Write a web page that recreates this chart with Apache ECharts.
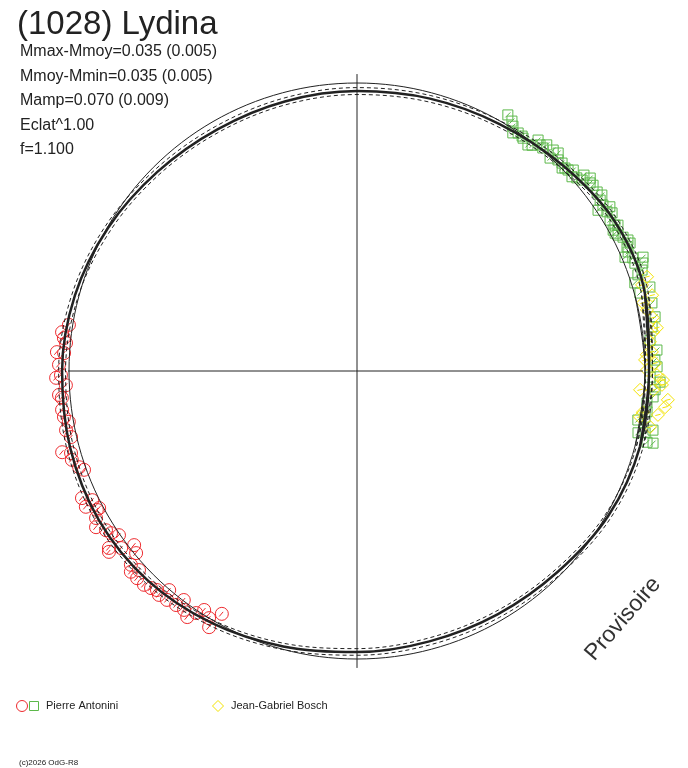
<!DOCTYPE html>
<html>
<head>
<meta charset="utf-8">
<title>(1028) Lydina</title>
<script src="https://cdn.jsdelivr.net/npm/echarts@6/dist/echarts.min.js"></script>
<style>
html, body { margin: 0; padding: 0; background: #fff; }
#main { width: 688px; height: 768px; }
</style>
</head>
<body>
<div id="main"></div>
<script>
// polar lightcurve: angle = rotation phase (deg), radius = relative brightness (1 = mean circle)
var title = '(1028) Lydina';
var statLines = ['Mmax-Mmoy=0.035 (0.005)', 'Mmoy-Mmin=0.035 (0.005)', 'Mamp=0.070 (0.009)', 'Eclat^1.00', 'f=1.100'];

var curveAngles = [0, 15, 30, 45, 60, 75, 90, 105, 120, 135, 150, 165, 180, 195, 210, 225, 240, 255, 270, 285, 300, 315, 330, 345];
var meanR = [1, 1, 1, 1, 1, 1, 1, 1, 1, 1, 1, 1, 1, 1, 1, 1, 1, 1, 1, 1, 1, 1, 1, 1];
var fitR = [1.014, 1.035, 1.035, 1.010, 0.990, 0.979, 0.972, 0.969, 0.969, 0.979, 0.997, 1.014, 1.024, 1.031, 1.035, 1.028, 1.010, 0.990, 0.976, 0.972, 0.976, 0.986, 1.007, 1.017];
var fitUpR = [1.026, 1.047, 1.046, 1.021, 1.001, 0.990, 0.984, 0.981, 0.981, 0.990, 1.008, 1.025, 1.036, 1.043, 1.046, 1.039, 1.021, 1.001, 0.987, 0.984, 0.988, 0.998, 1.018, 1.028];
var fitLowR = [1.002, 1.023, 1.024, 0.999, 0.979, 0.967, 0.960, 0.957, 0.958, 0.968, 0.985, 1.002, 1.012, 1.019, 1.023, 1.017, 0.999, 0.979, 0.964, 0.960, 0.964, 0.975, 0.996, 1.005];

// axis cross: [radius, angle]
var hAxis = [[1.003, 180], [0.993, 0]];
var vAxis = [[1.031, 90], [1.031, 270]];

// Pierre Antonini, night 1 (red circles) [radius, phase]
var redPts = [
    [1.013, 170.9], [1.033, 172.5], [1.024, 173.6], [1.015, 174.5], [1.044, 176.4], [1.019, 176.5],
    [1.035, 178.8], [1.045, 181.3], [1.028, 180.8], [1.012, 182.8], [1.038, 184.6], [1.029, 185.2],
    [1.033, 187.5], [1.030, 188.9], [1.016, 190.0], [1.031, 191.5], [1.019, 193.0], [1.062, 195.4],
    [1.033, 196.0], [1.037, 197.3], [1.021, 199.1], [1.008, 199.9], [1.052, 204.8], [1.023, 206.0],
    [1.014, 208.0], [1.053, 206.6], [1.024, 208.1], [1.040, 209.4], [1.056, 210.9], [1.032, 212.4],
    [1.023, 213.4], [1.004, 214.6], [1.058, 215.5], [1.066, 216.1], [1.024, 216.9], [0.982, 218.0],
    [0.994, 219.5], [1.034, 220.6], [1.050, 221.6], [1.025, 222.4], [1.049, 223.3], [1.048, 225.1],
    [1.039, 226.5], [1.030, 227.6], [1.038, 228.5], [1.002, 229.4], [1.033, 230.3], [1.027, 232.3],
    [0.997, 232.9], [1.024, 234.1], [1.038, 235.4], [1.009, 236.4], [0.985, 237.4], [1.000, 239.1],
    [1.027, 240.0], [0.965, 240.9]
];

// Pierre Antonini, night 2 (green squares)
var greenPts = [
    [1.032, 59.5], [1.021, 58.2], [1.008, 57.5], [0.988, 56.8], [0.998, 55.9], [0.997, 54.9],
    [0.993, 54.5], [0.984, 52.9], [0.992, 52.2], [1.019, 51.9], [1.010, 51.0], [1.008, 50.2],
    [1.025, 50.0], [1.026, 48.4], [0.998, 47.8], [1.030, 47.3], [1.012, 46.4], [1.014, 45.4],
    [1.002, 44.7], [1.009, 44.3], [1.012, 43.6], [1.025, 42.9], [1.006, 42.1], [1.016, 41.3],
    [1.041, 40.8], [1.025, 40.3], [1.051, 39.6], [1.040, 38.9], [1.043, 38.2], [1.040, 36.7],
    [1.047, 35.7], [1.032, 35.1], [1.030, 34.0], [1.006, 33.7], [1.029, 32.5], [1.047, 33.0],
    [1.042, 31.8], [1.023, 30.8], [1.029, 29.5], [1.015, 28.8], [1.038, 29.2], [1.016, 28.1],
    [1.022, 27.5], [1.034, 26.7], [1.045, 25.8], [1.047, 25.1], [1.032, 24.7], [1.028, 23.7],
    [1.011, 23.0], [1.035, 22.3], [1.035, 21.2], [1.069, 21.7], [1.061, 20.7], [1.050, 19.5],
    [1.031, 18.9], [1.012, 17.6], [1.058, 16.0], [1.019, 15.4], [1.051, 13.0], [1.052, 10.3],
    [1.036, 8.5], [1.023, 6.0], [1.044, 4.0], [1.035, 2.1], [1.042, 0.8], [1.018, 358.8],
    [1.053, 357.9], [1.037, 356.4], [1.032, 355.0], [1.013, 353.7], [1.017, 352.0], [0.990, 350.1],
    [1.013, 350.9], [0.999, 347.6], [1.023, 347.9], [1.048, 348.7], [1.037, 346.2], [1.058, 346.3]
];

// Jean-Gabriel Bosch (yellow diamonds)
var yellowPts = [
    [1.059, 18.0], [1.034, 16.8], [1.058, 14.4], [1.021, 13.4], [1.029, 11.9], [1.044, 10.2],
    [1.052, 8.2], [1.037, 7.5], [1.022, 5.7], [1.026, 3.7], [1.008, 3.2], [1.001, 2.2],
    [1.035, 1.5], [1.007, 0.2], [1.042, 359.2], [1.063, 358.3], [1.060, 357.4], [0.985, 356.2],
    [1.030, 356.3], [1.084, 354.7], [1.077, 353.3], [1.003, 351.8], [1.056, 351.7], [0.995, 350.8],
    [1.036, 349.2]
];

var observers = ['Pierre Antonini', 'Jean-Gabriel Bosch'];
var credit = '(c)2026 OdG-R8';
var stamp = 'Provisoire';

var RED = '#ee2a2e', GREEN = '#5cb84a', YELLOW = '#f3e300', INK = '#222';
var FONT = '"Liberation Sans", Arial, sans-serif';
var R_MAX = 1.1; // radius axis ends a bit past the data so nothing is clipped
var ROUND = 0.34; // spline tension that makes 15deg steps look like a circle

var circleSym = 'path://M0,10A10,10,0,1,1,20,10A10,10,0,1,1,0,10ZM6,14L12,7';
var squareSym = 'path://M0,0L20,0L20,20L0,20ZM5,15L15,5';
var diamondSym = 'path://M10,0L20,10L10,20L0,10ZM6,11L14,9';

// closed curve with one extra point on each side so the spline joins smoothly
function loop(radii) {
    var n = radii.length;
    var pts = [[radii[n - 1], curveAngles[n - 1] - 360]];
    for (var i = 0; i < n; i++) pts.push([radii[i], curveAngles[i]]);
    pts.push([radii[0], curveAngles[0] + 360]);
    pts.push([radii[1], curveAngles[1] + 360]);
    return pts;
}

function curve(radii, style) {
    return {
        type: 'line', coordinateSystem: 'polar', data: loop(radii),
        smooth: ROUND, symbol: 'none', silent: true,
        lineStyle: style
    };
}

function straight(pts) {
    return {
        type: 'line', coordinateSystem: 'polar', data: pts,
        symbol: 'none', silent: true,
        lineStyle: { color: INK, width: 1 }
    };
}

function points(pts, sym, size, color) {
    return {
        type: 'scatter', coordinateSystem: 'polar', data: pts,
        symbol: sym, symbolSize: size, silent: true,
        itemStyle: { color: 'rgba(0,0,0,0)', borderColor: color, borderWidth: 1, opacity: 1 }
    };
}

var chart = echarts.init(document.getElementById('main'), null, { renderer: 'canvas' });

var graphics = [
    { type: 'text', x: 17, y: 25, style: { text: title, font: '33px ' + FONT, fill: INK, verticalAlign: 'middle', textVerticalAlign: 'middle' } }
];
statLines.forEach(function (s, i) {
    graphics.push({ type: 'text', x: 20, y: 52 + i * 24.5,
        style: { text: s, font: '16px ' + FONT, fill: INK, verticalAlign: 'middle', textVerticalAlign: 'middle' } });
});
graphics.push(
    { type: 'circle', shape: { cx: 22, cy: 706, r: 5.5 }, style: { fill: 'none', stroke: RED, lineWidth: 1 } },
    { type: 'rect', shape: { x: 29.5, y: 701.5, width: 9, height: 9 }, style: { fill: 'none', stroke: GREEN, lineWidth: 1 } },
    { type: 'text', x: 46, y: 706, style: { text: observers[0], font: '11px ' + FONT, fill: INK, verticalAlign: 'middle', textVerticalAlign: 'middle' } },
    { type: 'polygon', shape: { points: [[218, 700.5], [223.5, 706], [218, 711.5], [212.5, 706]] }, style: { fill: 'none', stroke: YELLOW, lineWidth: 1 } },
    { type: 'text', x: 231, y: 706, style: { text: observers[1], font: '11px ' + FONT, fill: INK, verticalAlign: 'middle', textVerticalAlign: 'middle' } },
    { type: 'text', x: 19, y: 763, style: { text: credit, font: '8px ' + FONT, fill: INK, verticalAlign: 'middle', textVerticalAlign: 'middle' } },
    { type: 'text', x: 623, y: 619, rotation: 49 * Math.PI / 180,
        style: { text: stamp, font: '23px ' + FONT, fill: '#333', align: 'center', textAlign: 'center', verticalAlign: 'middle', textVerticalAlign: 'middle' } }
);

var option = {
    animation: false,
    backgroundColor: '#fff',
    polar: { center: [357, 371], radius: 288 * R_MAX },
    angleAxis: {
        type: 'value', min: 0, max: 360, startAngle: 0, clockwise: false,
        axisLine: { show: false }, axisTick: { show: false }, axisLabel: { show: false },
        splitLine: { show: false }, splitArea: { show: false }
    },
    radiusAxis: {
        type: 'value', min: 0, max: R_MAX,
        axisLine: { show: false }, axisTick: { show: false }, axisLabel: { show: false },
        splitLine: { show: false }, splitArea: { show: false }
    },
    graphic: graphics,
    series: [
        straight(hAxis),
        straight(vAxis),
        curve(meanR, { color: INK, width: 1 }),
        curve(fitUpR, { color: INK, width: 1, type: [4, 3] }),
        curve(fitLowR, { color: INK, width: 1, type: [4, 3] }),
        curve(fitR, { color: INK, width: 2.5 }),
        points(redPts, circleSym, 13, RED),
        points(greenPts, squareSym, 10, GREEN),
        points(yellowPts, diamondSym, 13, YELLOW)
    ]
};

chart.setOption(option);
</script>
</body>
</html>
